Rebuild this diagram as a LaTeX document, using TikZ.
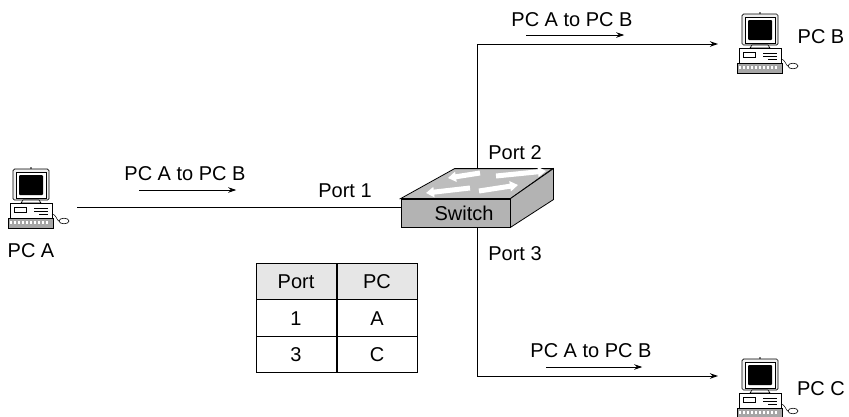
\documentclass[tikz,border=0pt]{standalone}
\usepackage{fontspec}
\setmainfont{Liberation Sans}
\usepackage{xcolor}
\usepackage{tikz}
\usetikzlibrary{arrows.meta, positioning}
\definecolor{switchgray}{HTML}{B3B3B3}
\definecolor{switchtop}{HTML}{BDBDBD}
\definecolor{headgray}{HTML}{E6E6E6}

\tikzset{
    link/.style={line width=1pt},
    flow/.style={line width=0.9pt, -{Stealth[length=8pt, width=5.5pt]}},
    tag/.style={inner sep=0pt, anchor=base},
    cell/.style={draw, line width=1pt, minimum width=80pt, minimum height=36.7pt,
        inner sep=0pt, text height=14pt, text depth=0pt},
    computer/.pic={
        % monitor
        \draw[fill=gray!12, rounded corners=1.5pt, line width=0.7pt] (-18,-31) rectangle (18,0);
        \draw[fill=white, line width=0.4pt] (-15,-28) rectangle (15,-2);
        \fill[black, rounded corners=1pt] (-12,-25) rectangle (12,-5);
        \fill (0,-32) circle (0.9pt);
        \draw[fill=white, line width=0.6pt] (-8,0) -- (8,0) -- (10,3) -- (-10,3) -- cycle;
        % base unit
        \draw[fill=white, line width=0.7pt] (-21,3) rectangle (21,18);
        \draw[line width=0.4pt] (-17,7) rectangle (-5,12) (3,8) -- (17,8) (3,11) -- (17,11) (8,14) -- (17,14);
        % keyboard
        \draw[fill=gray!70, line width=0.7pt] (-23,18) rectangle (22,28);
        \foreach \k in {-21,-17,...,18}
            \fill[white] (\k,21) rectangle ++(2.4,3);
        % mouse
        \draw[line width=0.5pt] (21,14) .. controls (25,14) and (26,21) .. (28,21);
        \draw[fill=white, line width=0.6pt] (33,21) ellipse (5pt and 2.8pt);
    }
}

\begin{document}
\begin{tikzpicture}[x=1pt, y=-1pt, >=Stealth, font=\fontsize{20}{22}\selectfont]
    \useasboundingbox (0,0) rectangle (849,416);

    % Computers
    \pic at (31,200) {computer};
    \pic at (760,45) {computer};
    \pic at (760,390) {computer};
    \node[tag] (nameA) at (31,257) {PC A};
    \node[tag] (nameB) at (821,43) {PC B};
    \node[tag] (nameC) at (821,395) {PC C};
    \coordinate (nicA) at (77,207);
    \coordinate (nicB) at (718,44);
    \coordinate (nicC) at (718,376);

    % Switch box
    \node[draw, fill=switchgray, line width=0.8pt, minimum width=109pt, minimum height=28pt] (sw) at (455.5,213) {};
    \draw[fill=switchtop, line width=0.8pt] (sw.north west) -- ++(54,-30) -- ++(98,0) -- (sw.north east) -- cycle;
    \draw[fill=switchgray, line width=0.8pt] (sw.north east) -- ++(43,-30) -- ++(0,31) -- (sw.south east) -- cycle;
    \node[tag] (swname) at (464,220) {Switch};

    % Arrows on the lid
    \begin{scope}[white, line width=5pt, -{Triangle[width=10pt, length=8pt]}]
        \draw (480,173) -- (448,178);
        \draw (496,176) -- (546,171);
        \draw (470,188) -- (426,193);
        \draw (479,191) -- (518,185);
    \end{scope}

    % Ports
    \coordinate (p1) at (sw.west |- nicA);
    \coordinate (p2) at (477,169);
    \coordinate (p3) at (477,227);
    \node[tag] (port1) at (345,197) {Port 1};
    \node[tag] (port2) at (515,159) {Port 2};
    \node[tag] (port3) at (515,260) {Port 3};

    % Links
    \draw[link] (nicA) -- (p1);
    \draw[link, -{Stealth[length=8pt, width=5.5pt]}] (p2) |- (nicB);
    \draw[link, -{Stealth[length=8pt, width=5.5pt]}] (p3) |- (nicC);

    % Frame direction
    \node[tag] (msgA) at (185,180) {PC A to PC B};
    \node[tag] (msgB) at (572,26) {PC A to PC B};
    \node[tag] (msgC) at (591,357) {PC A to PC B};
    \draw[flow] (msgA.base west) ++(15,10) -- ++(97,0);
    \draw[flow] (msgB.base west) ++(15,9) -- ++(98,0);
    \draw[flow] (msgC.base west) ++(16,10) -- ++(96,0);

    % Address table
    \foreach \p/\c/\f [count=\r] in {Port/PC/headgray, 1/A/white, 3/C/white}{
        \node[cell, fill=\f] (port\r) at (296,245+36.5*\r) {\p};
        \node[cell, fill=\f, right=0pt of port\r] (pc\r) {\c};
    }
\end{tikzpicture}
\end{document}
